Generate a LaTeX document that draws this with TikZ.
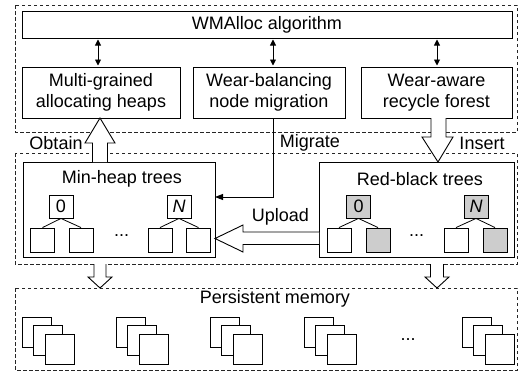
\documentclass[tikz,border=0pt]{standalone}
\usepackage{fontspec}
\setmainfont{Liberation Sans}
\usetikzlibrary{arrows.meta}
\definecolor{nodegray}{RGB}{205,205,205}
\tikzset{
  txt/.style={font=\fontsize{18}{21}\selectfont},
  box/.style={draw, line width=0.9pt, inner sep=0pt, outer sep=0pt, align=center, txt},
  dashbox/.style={draw=black!85, line width=0.7pt, dash pattern=on 3.5pt off 2.5pt},
  leaf/.style={draw, line width=0.9pt, inner sep=0pt, minimum width=24pt, minimum height=24pt, fill=white},
  root/.style={draw, line width=0.9pt, inner sep=0pt, minimum width=24pt, minimum height=23pt, txt},
  dbl/.style={line width=0.9pt, {Triangle[length=6pt,width=6pt]}-{Triangle[length=6pt,width=6pt]}, shorten <=1.5pt, shorten >=1.5pt},
  thinarrow/.style={line width=0.9pt, -{Triangle[length=8pt,width=6pt]}},
  hollow/.style={draw, line width=0.9pt, fill=white, line join=miter},
  sq/.style={draw, line width=0.9pt, fill=white},
  edge/.style={line width=0.8pt}
}
\begin{document}
\begin{tikzpicture}[x=1pt,y=-1pt]
\useasboundingbox (0,0) rectangle (519,372);
% dashed layer frames
\draw[dashbox] (15,5) rectangle (517,132);
\draw[dashbox] (15,153) rectangle (517,264);
\draw[dashbox] (15,288) rectangle (517,370);

% top layer
\node[box, minimum width=490pt, minimum height=27pt] (wm) at (267,24.5) {WMAlloc algorithm};
\node[box, minimum width=158pt, minimum height=51pt] (b1) at (101,92.5) {Multi-grained\\allocating heaps};
\node[box, minimum width=152pt, minimum height=51pt] (b2) at (269,92.5) {Wear-balancing\\node migration};
\node[box, minimum width=151pt, minimum height=51pt] (b3) at (436.5,92.5) {Wear-aware\\recycle forest};

\coordinate (x1) at (98,0);
\coordinate (x2) at (273,0);
\coordinate (x3) at (437,0);
\draw[dbl] (wm.south -| x1) -- (b1.north -| x1);
\draw[dbl] (wm.south -| x2) -- (b2.north -| x2);
\draw[dbl] (wm.south -| x3) -- (b3.north -| x3);

% middle layer
\node[box, minimum width=192pt, minimum height=95pt] (mh) at (119,209.5) {};
\node[box, minimum width=195pt, minimum height=95pt] (rb) at (416.5,209.5) {};
\node[txt] (mht) at (122,179) {Min-heap trees};
\node[txt] (rbt) at (420,179) {Red-black trees};

% min-heap small trees
\node[root] (m0) at (61,206.5) {0};
\node[leaf] (m0a) at (42.5,240) {};
\node[leaf] (m0b) at (81,240) {};
\node[root] (mN) at (179,206.5) {\itshape N};
\node[leaf] (mNa) at (160,240) {};
\node[leaf] (mNb) at (198.5,240) {};
\node[txt] (mdots) at (121.5,236) {...};
\foreach \p/\c in {m0/m0a, m0/m0b, mN/mNa, mN/mNb} \draw[edge] (\p.south) -- (\c.north);

% red-black small trees
\node[root, fill=nodegray] (r0) at (358.5,206.5) {0};
\node[leaf] (r0a) at (339,240) {};
\node[leaf, fill=nodegray] (r0b) at (378,240) {};
\node[root, fill=nodegray] (rN) at (476,206.5) {\itshape N};
\node[leaf] (rNa) at (456,240) {};
\node[leaf, fill=nodegray] (rNb) at (495,240) {};
\node[txt] (rdots) at (416.5,236) {...};
\foreach \p/\c in {r0/r0a, r0/r0b, rN/rNa, rN/rNb} \draw[edge] (\p.south) -- (\c.north);

% migrate connector
\coordinate (mig) at (273,197);
\draw[thinarrow] (b2.south -| mig) |- (mh.east |- mig);

% hollow arrows
% Obtain (up)
\draw[hollow] (92.5,162) -- (92.5,143) -- (85,143) -- (100,118) -- (115,143) -- (107.5,143) -- (107.5,162);
% Insert (down)
\draw[hollow] (431,118) -- (431,137) -- (422,137) -- (438,162) -- (453,137) -- (446,137) -- (446,118);
% Upload (left)
\draw[hollow] (319,232) -- (243,232) -- (243,225) -- (215,238.5) -- (243,252) -- (243,244.5) -- (319,244.5);
% down to persistent memory
\draw[hollow] (94,264) -- (94,277) -- (88,277) -- (100,288) -- (112,277) -- (106,277) -- (106,264);
\draw[hollow] (430.5,264) -- (430.5,277) -- (425,277) -- (437,288) -- (449,277) -- (443.5,277) -- (443.5,264);

% labels
\node[txt] (lob) at (56,143) {Obtain};
\node[txt] (lmi) at (310,143) {Migrate};
\node[txt] (lin) at (482,143) {Insert};
\node[txt] (lup) at (280.5,217) {Upload};

% persistent memory
\node[txt] (pm) at (275,299) {Persistent memory};
\foreach \x in {22,116,210,304,462} {
  \draw[sq] (\x,317) rectangle ++(29,30);
  \draw[sq] (\x+11.5,325.5) rectangle ++(29,30);
  \draw[sq] (\x+23,334) rectangle ++(29,30);
}
\node[txt] (pdots) at (408,340) {...};
\end{tikzpicture}
\end{document}
